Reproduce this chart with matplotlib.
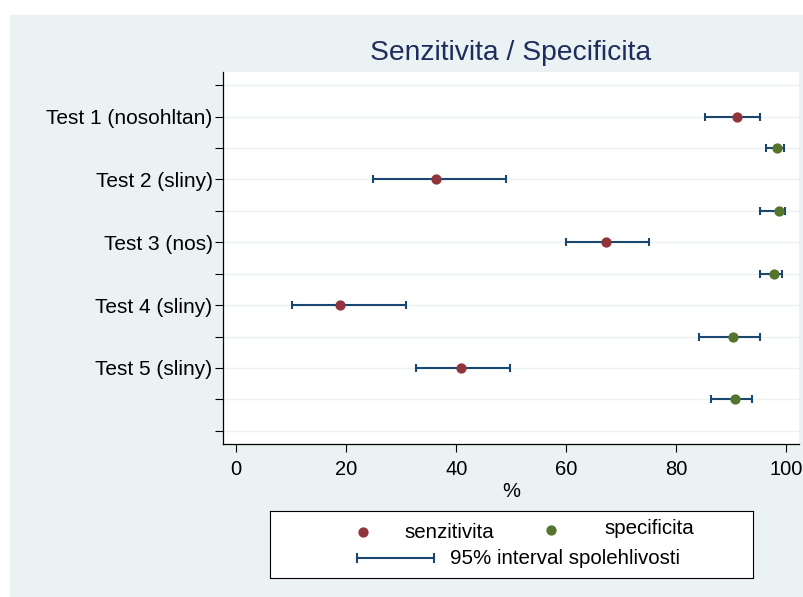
import matplotlib
matplotlib.use('Agg')
import matplotlib.pyplot as plt
from matplotlib.patches import Rectangle
from matplotlib.lines import Line2D

plt.rcParams['font.family'] = ['Liberation Sans', 'DejaVu Sans']

# values (percent)
tests = ['Test 1 (nosohltan)', 'Test 2 (sliny)', 'Test 3 (nos)', 'Test 4 (sliny)', 'Test 5 (sliny)']
sens = [91.1, 36.3, 67.3, 18.9, 40.9]
sens_lo = [85.2, 24.9, 59.9, 10.2, 32.7]
sens_hi = [95.3, 49.1, 75.1, 30.9, 49.7]
spec = [98.4, 98.6, 97.7, 90.4, 90.6]
spec_lo = [96.4, 95.2, 95.2, 84.2, 86.4]
spec_hi = [99.5, 99.7, 99.2, 95.2, 93.8]
xticks = [0, 20, 40, 60, 80, 100]

# Stata s2color-like colours
bg = '#EAF2F3'
navy = '#1A476F'
red = '#90353B'
green = '#55752F'

W, H = 804, 597
fig = plt.figure(figsize=(W / 100, H / 100), dpi=100)
fig.patch.set_facecolor('white')
fig.patches.append(Rectangle((10 / W, 0), (803 - 10) / W, (H - 15) / H,
                             transform=fig.transFigure, color=bg, zorder=-10))

ax = fig.add_axes([223 / W, 1 - 444 / H, (799.5 - 223) / W, (444 - 72) / H])
ax.set_facecolor('white')

# row positions: sens on odd rows, spec on even rows, empty rows top/bottom
sens_y = [1 + 2 * i for i in range(len(tests))]
spec_y = [2 + 2 * i for i in range(len(tests))]
all_rows = list(range(0, 2 * len(tests) + 2))

for r in all_rows:
    ax.axhline(r, color=bg, lw=1.0, zorder=0)

ekw = dict(fmt='none', ecolor=navy, elinewidth=1.5, capsize=3.2, capthick=1.5, zorder=2)
ax.errorbar(sens, sens_y,
            xerr=[[s - l for s, l in zip(sens, sens_lo)], [h - s for s, h in zip(sens, sens_hi)]], **ekw)
ax.errorbar(spec, spec_y,
            xerr=[[s - l for s, l in zip(spec, spec_lo)], [h - s for s, h in zip(spec, spec_hi)]], **ekw)
ax.plot(sens, sens_y, 'o', color=red, ms=7.4, mew=0, zorder=3)
ax.plot(spec, spec_y, 'o', color=green, ms=7.4, mew=0, zorder=3)

ax.set_xlim(-2.4, 102.4)
ax.set_ylim(all_rows[-1] + 0.42, -0.42)
ax.set_xticks(xticks)
ax.set_yticks(all_rows)
ylabels = [''] * len(all_rows)
for t, y in zip(tests, sens_y):
    ylabels[y] = t
ax.set_yticklabels(ylabels)
ax.tick_params(axis='both', direction='out', length=5.5, width=0.8, colors='black', labelsize=14.5)
ax.tick_params(axis='x', pad=6)
ax.tick_params(axis='y', pad=2, labelsize=15)
for s in ['top', 'right']:
    ax.spines[s].set_visible(False)
for s in ['left', 'bottom']:
    ax.spines[s].set_linewidth(0.9)
ax.set_xlabel('%', fontsize=14.5, labelpad=2)

fig.text(511 / W, 1 - 53 / H, 'Senzitivita / Specificita', ha='center', va='center',
         fontsize=20.3, color='#1E2D5C')

# legend box (Stata style, drawn by hand)
lax = fig.add_axes([270 / W, 1 - 578 / H, (753 - 270) / W, (578 - 511) / H])
lax.set_xlim(270, 753)
lax.set_ylim(578, 511)
lax.set_xticks([])
lax.set_yticks([])
lax.set_facecolor('white')
for s in lax.spines.values():
    s.set_linewidth(0.8)
lax.plot([363], [532], 'o', color=red, ms=7.4, mew=0)
lax.text(404, 533, 'senzitivita', va='center', fontsize=14.8)
lax.plot([551], [530], 'o', color=green, ms=7.4, mew=0)
lax.text(604, 528, 'specificita', va='center', fontsize=14.8)
lax.add_line(Line2D([357, 434], [558, 558], color=navy, lw=1.5))
lax.add_line(Line2D([357, 357], [554, 562], color=navy, lw=1.5))
lax.add_line(Line2D([434, 434], [554, 562], color=navy, lw=1.5))
lax.text(450, 558, '95% interval spolehlivosti', va='center', fontsize=14.8)

fig.savefig('out.png', dpi=100, facecolor=fig.get_facecolor())
